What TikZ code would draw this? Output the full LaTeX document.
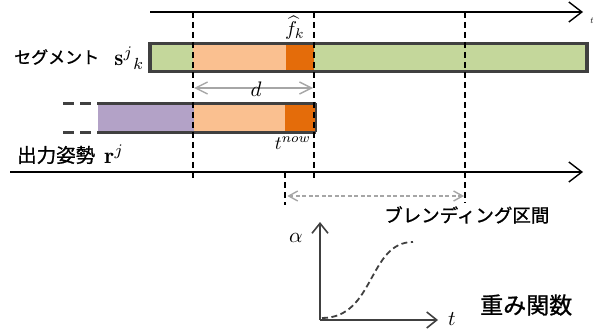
\documentclass[tikz,border=0pt]{standalone}
\usepackage{fontspec}
\usetikzlibrary{arrows.meta}
\newfontfamily\jpfont[FakeBold=1]{Noto Sans CJK JP}
\definecolor{segGreen}{HTML}{C4D79B}
\definecolor{lightOrange}{HTML}{FAC090}
\definecolor{darkOrange}{HTML}{E46C0A}
\definecolor{outPurple}{HTML}{B3A2C7}
\definecolor{barBorder}{HTML}{404040}
\definecolor{arrGray}{HTML}{A6A6A6}
\tikzset{
  axisline/.style={line width=1.4pt, black, -{Straight Barb[length=13pt,width=20pt,line width=1.4pt]}},
  vdash/.style={line width=1.4pt, black, dash pattern=on 6pt off 4pt},
  barborder/.style={line width=3.2pt, barBorder},
  grayarrow/.style={line width=1.4pt, arrGray, {Straight Barb[length=12pt,width=12pt,line width=1.4pt]}-{Straight Barb[length=12pt,width=12pt,line width=1.4pt]}},
  blendarrow/.style={line width=1.4pt, arrGray, dash pattern=on 4pt off 2.5pt, {Straight Barb[length=9pt,width=10pt,line width=1.4pt,sep]}-{Straight Barb[length=9pt,width=10pt,line width=1.4pt]}},
  waxis/.style={line width=1.8pt, barBorder, -{Straight Barb[length=10pt,width=16pt,line width=1.6pt]}},
  jp/.style={font=\jpfont, inner sep=0pt},
  mathlbl/.style={inner sep=0pt}
}
\begin{document}
\begin{tikzpicture}[x=1pt,y=-1pt]
\useasboundingbox (0,0) rectangle (596,331);
% fills of segment bar
\fill[segGreen] (150,43.5) rectangle (193,71.5);
\fill[lightOrange] (193,43.5) rectangle (286,71.5);
\fill[darkOrange] (286,43.5) rectangle (314,71.5);
\fill[segGreen] (314,43.5) rectangle (587,71.5);
\draw[barborder] (150,43.5) rectangle (587,71.5);
% fills of output bar
\fill[outPurple] (98,103.5) rectangle (194,132.5);
\fill[lightOrange] (194,103.5) rectangle (285,132.5);
\fill[darkOrange] (285,103.5) rectangle (316,132.5);
\coordinate (oTL) at (98,103.5);
\coordinate (oTR) at (316,103.5);
\coordinate (oBL) at (98,132.5);
\coordinate (oBR) at (316,132.5);
\draw[barborder] (oTL) -- (oTR);
\draw[barborder] (oBL) -- (oBR);
\draw[line width=1.5pt, barBorder] (oTR) -- (oBR);
\coordinate (dTL) at (63,103.5);
\coordinate (dBL) at (63,132.5);
\draw[barborder, dash pattern=on 11pt off 6pt] (dTL) -- (oTL);
\draw[barborder, dash pattern=on 11pt off 6pt] (dBL) -- (oBL);
% axes
\coordinate (ax1s) at (150,12);
\coordinate (ax1e) at (583,12);
\coordinate (ax2s) at (10,172);
\coordinate (ax2e) at (583,172);
\draw[axisline] (ax1s) -- (ax1e);
\draw[axisline] (ax2s) -- (ax2e);
% dashed verticals
\coordinate (v1t) at (193,12); \coordinate (v1b) at (193,178);
\coordinate (v2t) at (314,12); \coordinate (v2b) at (314,178);
\coordinate (v3t) at (465,12); \coordinate (v3b) at (465,203);
\coordinate (v4t) at (285,172); \coordinate (v4b) at (285,205);
\draw[vdash] (v1t) -- (v1b);
\draw[vdash] (v2t) -- (v2b);
\draw[vdash] (v3t) -- (v3b);
\draw[vdash] (v4t) -- (v4b);
% d arrow
\coordinate (da) at (194,88);
\coordinate (db) at (313,88);
\draw[grayarrow] (da) -- (db);
\node[mathlbl, scale=2.1] (dlbl) at (256,89) {$d$};
% blending arrow
\coordinate (ba) at (286,196);
\coordinate (bb) at (464,196);
\draw[blendarrow] (ba) -- (bb);
% labels
\node[jp, anchor=west] (seg) at (14,57) {\fontsize{17}{20}\selectfont セグメント};
\node[mathlbl, anchor=west, scale=2.3] (sjk) at (114,58) {$\mathbf{s}^{j}{}_{k}$};
\node[mathlbl, scale=2.0] (fk) at (295,28) {$\widehat{f}_{k}$};
\node[jp, anchor=west] (out) at (17,155) {\fontsize{19.5}{22}\selectfont 出力姿勢};
\node[mathlbl, anchor=west, scale=2.3] (rj) at (104,154) {$\mathbf{r}^{j}$};
\node[mathlbl, scale=1.9] (tnow) at (293,143) {$t^{now}$};
\node[jp, anchor=west] (blend) at (384,215) {\fontsize{18.5}{22}\selectfont ブレンディング区間};
\node[mathlbl, scale=0.9] (ttop) at (592,21) {$t$};
% weight function
\coordinate (wo) at (320,320);
\coordinate (wy) at (320,222);
\coordinate (wx) at (438,320);
\draw[waxis] (wo) -- (wy);
\draw[waxis] (wo) -- (wx);
\node[mathlbl, scale=2.1] (alpha) at (296,238) {$\alpha$};
\node[mathlbl, scale=2.1] (tlbl) at (452,319) {$t$};
\coordinate (c0) at (322,318);
\coordinate (c1) at (413,242);
\draw[line width=1.8pt, barBorder, dash pattern=on 6pt off 3.5pt] (c0) .. controls (375,318) and (368,242) .. (c1);
\node[jp, anchor=west] (wf) at (480,305) {\fontsize{23}{26}\selectfont 重み関数};
\end{tikzpicture}
\end{document}
